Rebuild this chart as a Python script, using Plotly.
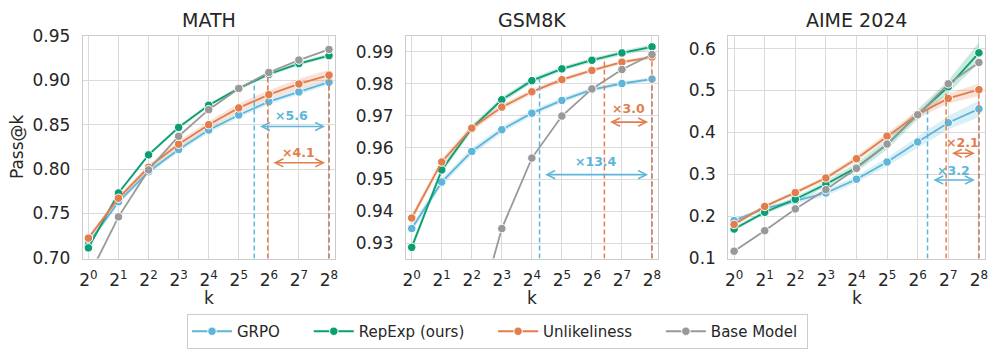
import math
import plotly.graph_objects as go

# ---------------- data ----------------
k_exp = [0, 1, 2, 3, 4, 5, 6, 7, 8]
k_ticktext = [f"2<sup>{i}</sup>" for i in k_exp]
series_names = ["GRPO", "RepExp (ours)", "Unlikeliness", "Base Model"]

# MATH
math_grpo = [0.716, 0.763, 0.797, 0.822, 0.844, 0.861, 0.876, 0.887, 0.898]
math_repexp = [0.711, 0.773, 0.816, 0.847, 0.872, 0.891, 0.907, 0.919, 0.928]
math_unlike = [0.722, 0.767, 0.802, 0.828, 0.850, 0.869, 0.884, 0.896, 0.906]
math_base = [0.678, 0.746, 0.799, 0.837, 0.867, 0.891, 0.909, 0.923, 0.935]
math_grpo_err = [0.003, 0.003, 0.003, 0.003, 0.003, 0.003, 0.003, 0.003, 0.003]
math_repexp_err = [0.002, 0.002, 0.002, 0.002, 0.002, 0.002, 0.002, 0.002, 0.002]
math_unlike_err = [0.003, 0.003, 0.003, 0.004, 0.004, 0.005, 0.005, 0.006, 0.006]

# GSM8K
gsm_grpo = [0.9346, 0.9492, 0.9588, 0.9656, 0.9708, 0.9748, 0.9782, 0.9801, 0.9815]
gsm_repexp = [0.9287, 0.9530, 0.9661, 0.9750, 0.9810, 0.9847, 0.9874, 0.9897, 0.9916]
gsm_unlike = [0.9379, 0.9555, 0.9661, 0.9727, 0.9775, 0.9813, 0.9842, 0.9868, 0.9884]
gsm_base = [0.780, 0.850, 0.901, 0.9346, 0.9567, 0.9699, 0.9784, 0.9845, 0.9892]
gsm_grpo_err = [0.0012, 0.0012, 0.0011, 0.0010, 0.0009, 0.0008, 0.0007, 0.0006, 0.0006]
gsm_repexp_err = [0.0012, 0.0011, 0.0010, 0.0009, 0.0008, 0.0007, 0.0007, 0.0007, 0.0008]
gsm_unlike_err = [0.0012, 0.0011, 0.0010, 0.0009, 0.0008, 0.0007, 0.0006, 0.0006, 0.0006]

# AIME 2024
aime_grpo = [0.189, 0.218, 0.236, 0.255, 0.288, 0.329, 0.377, 0.423, 0.456]
aime_repexp = [0.169, 0.209, 0.240, 0.276, 0.316, 0.371, 0.443, 0.509, 0.590]
aime_unlike = [0.180, 0.223, 0.256, 0.291, 0.337, 0.391, 0.443, 0.481, 0.502]
aime_base = [0.116, 0.165, 0.217, 0.263, 0.314, 0.372, 0.442, 0.516, 0.567]
aime_grpo_err = [0.005, 0.005, 0.006, 0.007, 0.008, 0.010, 0.013, 0.016, 0.020]
aime_repexp_err = [0.005, 0.005, 0.006, 0.007, 0.010, 0.012, 0.012, 0.015, 0.025]
aime_unlike_err = [0.004, 0.004, 0.005, 0.006, 0.007, 0.008, 0.010, 0.012, 0.015]

# speed-up factors (GRPO, Unlikeliness)
math_ratios = [5.6, 4.1]
gsm_ratios = [13.4, 3.0]
aime_ratios = [3.2, 2.1]

# ---------------- style ----------------
colors = ["#5DB6D9", "#0A9E72", "#E27E4D", "#999999"]
band_colors = ["rgba(93,182,217,0.22)", "rgba(10,158,114,0.22)",
               "rgba(226,126,77,0.22)", "rgba(153,153,153,0.22)"]
FONT = "DejaVu Sans"
TXT = "#262626"
W, H = 997, 358
NBSP = "\u00a0"
legend_pad = [5, 5, 5, 1]

panels = [
    dict(title="MATH", vals=[math_grpo, math_repexp, math_unlike, math_base],
         errs=[math_grpo_err, math_repexp_err, math_unlike_err, None],
         yrange=[0.699, 0.9505], dtick=0.05, fmt=".2f", ratios=math_ratios,
         arrow_y=[0.848, 0.807], label_y=[0.860, 0.819],
         xdom=[82.7 / W, 335 / W]),
    dict(title="GSM8K", vals=[gsm_grpo, gsm_repexp, gsm_unlike, gsm_base],
         errs=[gsm_grpo_err, gsm_repexp_err, gsm_unlike_err, None],
         yrange=[0.9252, 0.9951], dtick=0.01, fmt=".2f", ratios=gsm_ratios,
         arrow_y=[0.9515, 0.968], label_y=[0.9557, 0.9722],
         xdom=[406 / W, 658 / W]),
    dict(title="AIME 2024", vals=[aime_grpo, aime_repexp, aime_unlike, aime_base],
         errs=[aime_grpo_err, aime_repexp_err, aime_unlike_err, None],
         yrange=[0.0985, 0.631], dtick=0.1, fmt=".1f", ratios=aime_ratios,
         arrow_y=[0.286, 0.350], label_y=[0.310, 0.375],
         xdom=[728.3 / W, 985 / W]),
]

YDOM = [1 - 258.5 / H, 1 - 35.7 / H]
XRANGE = [-0.19, 8.2]

fig = go.Figure()
annotations = []

for p_i, p in enumerate(panels):
    xa = "x" if p_i == 0 else f"x{p_i+1}"
    ya = "y" if p_i == 0 else f"y{p_i+1}"
    for s_i, name in enumerate(series_names):
        v = p["vals"][s_i]
        e = p["errs"][s_i]
        if e is not None:
            up = [a + b for a, b in zip(v, e)]
            lo = [a - b for a, b in zip(v, e)]
            fig.add_trace(go.Scatter(
                x=k_exp + k_exp[::-1], y=up + lo[::-1], fill="toself",
                fillcolor=band_colors[s_i], line=dict(width=0), mode="lines",
                hoverinfo="skip", showlegend=False, xaxis=xa, yaxis=ya))
        fig.add_trace(go.Scatter(
            x=k_exp, y=v, mode="lines+markers", name=name + NBSP * legend_pad[s_i],
            line=dict(color=colors[s_i], width=1.8),
            marker=dict(size=8.5, color=colors[s_i], line=dict(color="white", width=1)),
            showlegend=(p_i == 0), legendgroup=name, xaxis=xa, yaxis=ya,
            cliponaxis=True))
    # dashed reference lines + arrows
    ybot = p["yrange"][0]
    for j, s_i in enumerate([0, 2]):  # GRPO, Unlikeliness
        r = p["ratios"][j]
        target = p["vals"][s_i][-1]
        xs = k_exp[-1] - math.log2(r)
        for xv in (xs, k_exp[-1]):
            fig.add_trace(go.Scatter(
                x=[xv, xv], y=[ybot, target], mode="lines",
                line=dict(color=colors[s_i], width=1.5, dash="5px,3px"),
                hoverinfo="skip", showlegend=False, xaxis=xa, yaxis=ya))
        x0 = xs + 0.14
        x1 = k_exp[-1] - 0.13
        annotations.append(dict(
            x=x1, y=p["arrow_y"][j], ax=x0, ay=p["arrow_y"][j],
            xref=xa, yref=ya, axref=xa, ayref=ya, text="", showarrow=True,
            arrowhead=5, startarrowhead=5, arrowside="end+start",
            arrowsize=1, startarrowsize=1, arrowwidth=1.6, arrowcolor=colors[s_i]))
        annotations.append(dict(
            x=(x0 + x1) / 2, y=p["label_y"][j], xref=xa, yref=ya,
            xanchor="center", yanchor="middle",
            text=f"<b>×{r:.1f}</b>", showarrow=False,
            font=dict(family=FONT, size=12.5, color=colors[s_i])))
    # title and x label
    xc = (p["xdom"][0] + p["xdom"][1]) / 2
    annotations.append(dict(x=xc, y=1 - 20 / H, xref="paper", yref="paper",
                            xanchor="center", yanchor="middle",
                            text=p["title"], showarrow=False,
                            font=dict(family=FONT, size=19, color=TXT)))
    annotations.append(dict(x=xc, y=1 - 298 / H, xref="paper", yref="paper",
                            xanchor="center", yanchor="middle",
                            text="k", showarrow=False,
                            font=dict(family=FONT, size=17, color=TXT)))

    axis_common = dict(showgrid=True, gridcolor="#DADADA", gridwidth=1,
                       showline=True, linecolor="#CCCCCC", linewidth=1, mirror=True,
                       zeroline=False, tickfont=dict(family=FONT, size=17, color=TXT),
                       ticks="", automargin=False)
    fig.update_layout({
        ("xaxis" if p_i == 0 else f"xaxis{p_i+1}"): dict(
            axis_common, domain=p["xdom"], range=XRANGE, tickvals=k_exp,
            ticktext=k_ticktext, anchor=ya, ticklabelstandoff=6),
        ("yaxis" if p_i == 0 else f"yaxis{p_i+1}"): dict(
            axis_common, domain=YDOM, range=p["yrange"], dtick=p["dtick"],
            tick0=0, tickformat=p["fmt"], anchor=xa, ticklabelstandoff=8),
    })

annotations.append(dict(x=17 / W, y=(YDOM[0] + YDOM[1]) / 2, xref="paper", yref="paper",
                        xanchor="center", yanchor="middle",
                        text="Pass@k", textangle=-90, showarrow=False,
                        font=dict(family=FONT, size=17, color=TXT)))

fig.update_layout(
    width=W, height=H, margin=dict(l=0, r=0, t=0, b=0, pad=0, autoexpand=False),
    paper_bgcolor="white", plot_bgcolor="white",
    annotations=annotations,
    legend=dict(orientation="h", x=497.5 / W, xanchor="center", y=1 - 331.5 / H,
                yanchor="middle", bordercolor="#CCCCCC", borderwidth=1,
                font=dict(family=FONT, size=15, color=TXT), itemwidth=40,
                tracegroupgap=0),
    showlegend=True,
)

fig.write_html("out.html", config={"displayModeBar": False},
               post_script="document.body.style.margin='0px';")
